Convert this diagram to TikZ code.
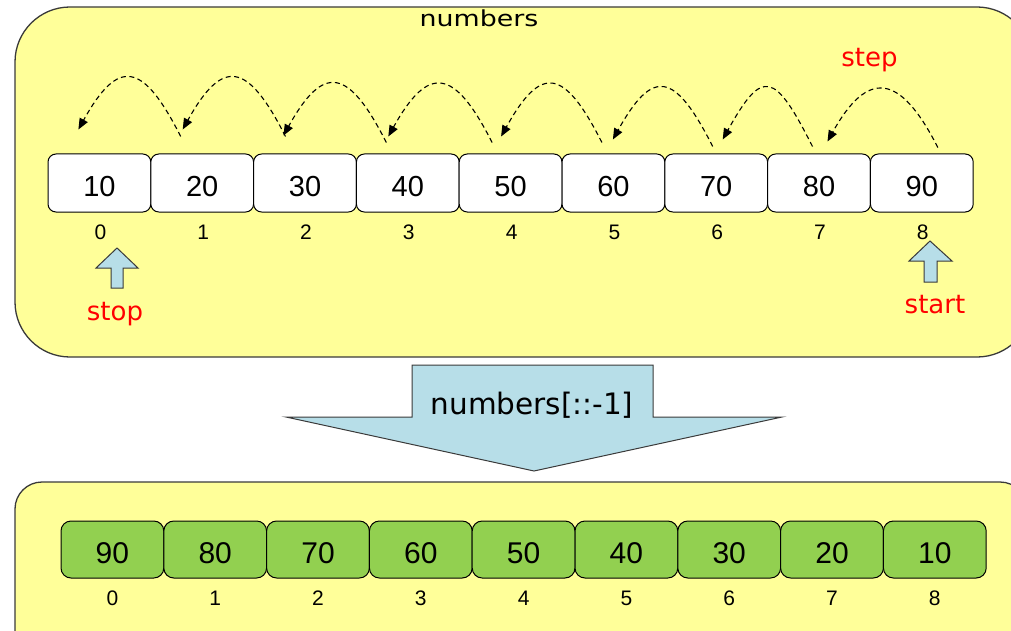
\documentclass[tikz,border=0pt]{standalone}
\usepackage{fontspec}
\usepackage{graphicx}
\setmainfont{Liberation Sans}
\newfontfamily\dvfont{DejaVu Sans}
\usetikzlibrary{arrows.meta}
\definecolor{pale}{HTML}{FFFF99}
\definecolor{iceblue}{HTML}{B7DEE8}
\definecolor{leaf}{HTML}{92D050}
\definecolor{edgegray}{HTML}{3A3A3A}
\tikzset{
 cell/.style={draw=black, line width=1pt, rounded corners=8pt, minimum width=102.8pt, minimum height=58pt, inner sep=0pt, fill=white, text height=27.5pt, text depth=0pt, font=\fontsize{29}{34}\selectfont},
 gcell/.style={cell, fill=leaf, rounded corners=10pt, minimum height=57pt, font=\fontsize{30}{36}\selectfont},
 idx/.style={inner sep=0pt, font=\fontsize{21}{25}\selectfont},
 gidx/.style={inner sep=0pt, font=\fontsize{21}{25}\selectfont},
 redlbl/.style={text=red, inner sep=0pt, anchor=base, font=\dvfont\fontsize{26}{31}\selectfont},
 hop/.style={dash pattern=on 5pt off 3.5pt, line width=1.1pt, -{Triangle[length=11pt,width=9pt]}},
 panel/.style={fill=pale, draw=edgegray, line width=1.3pt},
 blockarrow/.style={fill=iceblue, draw=edgegray, line width=1pt, line join=miter},
}
\begin{document}
\begin{tikzpicture}[x=1pt,y=-1pt]
\useasboundingbox (0,0) rectangle (1011,631);
\clip (0,0) rectangle (1011,631);
% panels
\draw[panel, rounded corners=55pt] (15,7) rectangle (1032,357);
\draw[panel, rounded corners=27pt] (15,482) rectangle (1027,690);
% top row
\foreach \v [count=\i from 0] in {10,20,...,90} {
  \node[cell] (t\i) at ({99.4+102.8*\i},183) {\v};
  \node[idx] (ti\i) at ({100.4+102.8*\i},232) {\i};
}
% hops
\foreach \k/\tdx/\tdy/\hdx/\hdy in {1/-21.5/17/-21/24, 2/-19.5/17/-19.5/24, 3/-21.5/11/-21.5/18, 4/-18.5/11/-19.5/17, 5/-11.5/11/-9.5/17, 6/-3.5/7/-0.5/14, 7/-6.5/7/6.5/14, 8/16/6/8.5/12} {
  \pgfmathtruncatemacro\j{\k-1}
  \draw[hop] ([xshift=\tdx pt,yshift=\tdy pt]t\k.north) .. controls +(-38pt,75pt) and +(40pt,72pt) .. ([xshift=\hdx pt,yshift=\hdy pt]t\j.north);
}
% labels
\node[anchor=base, inner sep=0pt, font=\dvfont\fontsize{22}{26}\selectfont] (title) at (479,27) {\scalebox{1.22}[1]{numbers}};
\node[redlbl] (steplbl) at (869.5,67) {step};
\draw[blockarrow] (117,248) -- (138,268) -- (123,268) -- (123,288) -- (111,288) -- (111,268) -- (96,268) -- cycle;
\node[redlbl] (stoplbl) at (115,320) {stop};
\draw[blockarrow] (930,241) -- (952,261) -- (937,261) -- (937,282) -- (924,282) -- (924,261) -- (909,261) -- cycle;
\node[redlbl] (startlbl) at (935,313) {start};
% big arrow
\draw[blockarrow] (412,365) -- (653,365) -- (653,417) -- (782,417) -- (534,471) -- (286,417) -- (412,417) -- cycle;
\node[anchor=base, inner sep=0pt, font=\dvfont\fontsize{29.5}{35}\selectfont] (op) at (532,414) {numbers[::-1]};
% bottom row
\foreach \v [count=\i from 0] in {90,80,...,10} {
  \node[gcell] (g\i) at ({112.4+102.8*\i},549.5) {\v};
  \node[gidx] (gi\i) at ({112.4+102.8*\i},598.5) {\i};
}
\end{tikzpicture}
\end{document}
